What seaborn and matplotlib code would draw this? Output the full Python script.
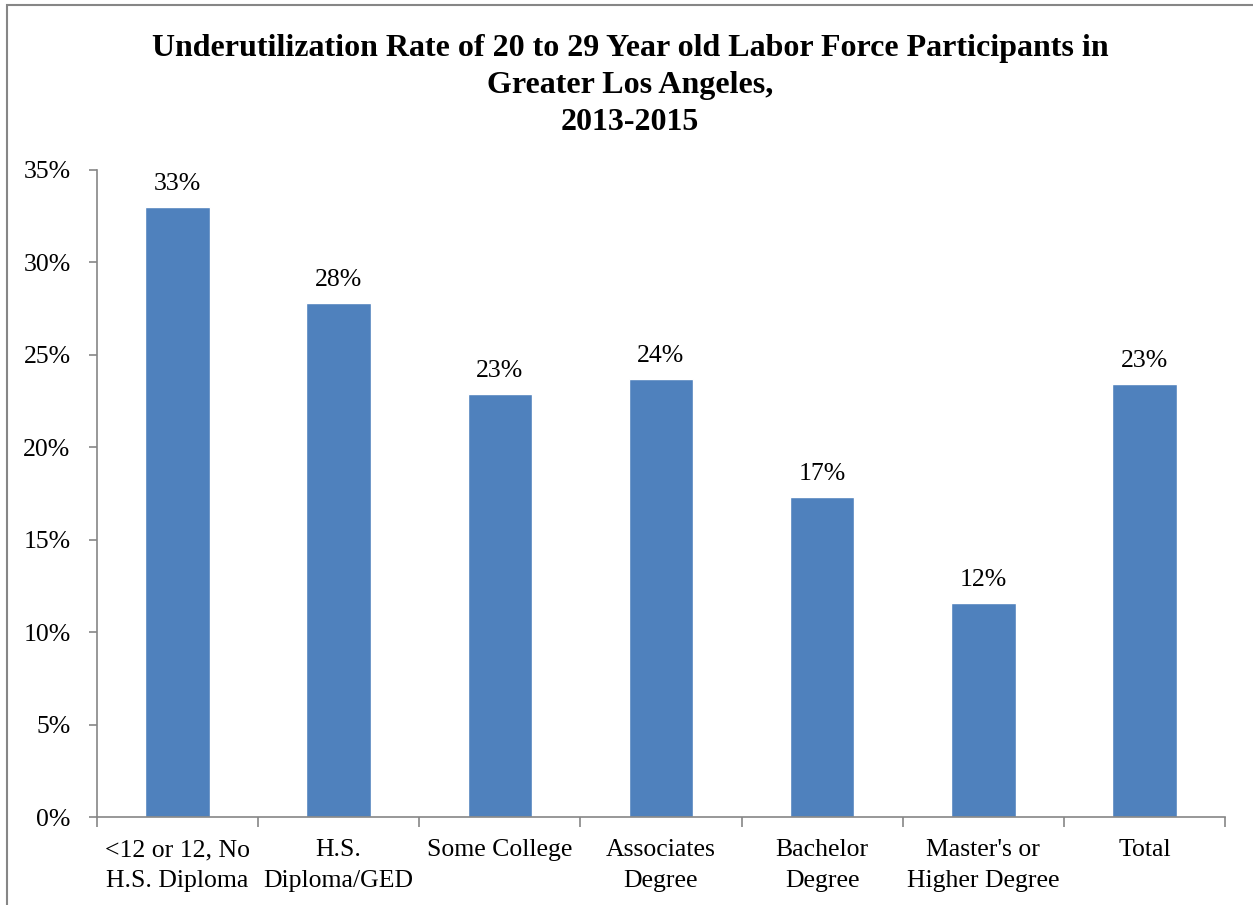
import matplotlib
matplotlib.use("Agg")
import matplotlib.pyplot as plt
from matplotlib.patches import Rectangle
from matplotlib.ticker import FixedLocator, PercentFormatter
import seaborn as sns
import pandas as pd
import numpy as np

categories = ["<12 or 12, No\nH.S. Diploma", "H.S.\nDiploma/GED", "Some College",
              "Associates\nDegree", "Bachelor\nDegree", "Master's or\nHigher Degree", "Total"]
values = [33.0, 27.8, 22.9, 23.7, 17.3, 11.6, 23.4]
labels = ["33%", "28%", "23%", "24%", "17%", "12%", "23%"]
yticks = [0, 5, 10, 15, 20, 25, 30, 35]
title = "Underutilization Rate of 20 to 29 Year old Labor Force Participants in\nGreater Los Angeles,\n2013-2015"

sns.set_theme(style="white")
plt.rcParams['font.family'] = ['Liberation Serif', 'DejaVu Serif']
plt.rcParams['text.color'] = 'black'
plt.rcParams['xtick.color'] = 'black'
plt.rcParams['ytick.color'] = 'black'

df = pd.DataFrame({"cat": categories, "val": values})

fig = plt.figure(figsize=(12.53, 9.05), dpi=100)
ax = fig.add_axes([97/1253, 1-817/905, (1225-97)/1253, (817-170)/905])

sns.barplot(data=df, x="cat", y="val", order=categories, color="#4F81BD",
            saturation=1, width=0.4, ax=ax)

for i, (v, lab) in enumerate(zip(values, labels)):
    ax.text(i, v + 0.65, lab, ha="center", va="bottom", fontsize=18.5, color="black")

ax.set_xlim(-0.5, len(categories) - 0.5)
ax.set_ylim(0, 35)
ax.set_yticks(yticks)
ax.yaxis.set_major_formatter(PercentFormatter(decimals=0))
ax.set_xlabel("")
ax.set_ylabel("")
ax.tick_params(axis="x", which="major", length=0, pad=16, labelsize=18.5, labelcolor="black")
for t in ax.get_xticklabels():
    t.set_linespacing(1.52)
ax.xaxis.set_minor_locator(FixedLocator(np.arange(-0.5, len(categories), 1.0)))
ax.tick_params(axis="x", which="minor", length=7, width=1.2, color="#868686", direction="out", bottom=True)
ax.tick_params(axis="y", which="major", length=6, width=1.2, color="#868686", direction="out", left=True,
               labelsize=18.5, pad=13, labelcolor="black")

for s in ["top", "right"]:
    ax.spines[s].set_visible(False)
for s in ["left", "bottom"]:
    ax.spines[s].set_color("#868686")
    ax.spines[s].set_linewidth(1.2)

fig.text(630/1253, 1-34/905, title, ha="center", va="top", fontsize=23,
         fontweight="bold", linespacing=1.37, color="black")

fig.patches.append(Rectangle((7/1253, -0.1), 1.2, 1 - 5/905 + 0.1, transform=fig.transFigure,
                             fill=False, edgecolor="#868686", linewidth=1.5))

fig.savefig("out.png", dpi=100)
